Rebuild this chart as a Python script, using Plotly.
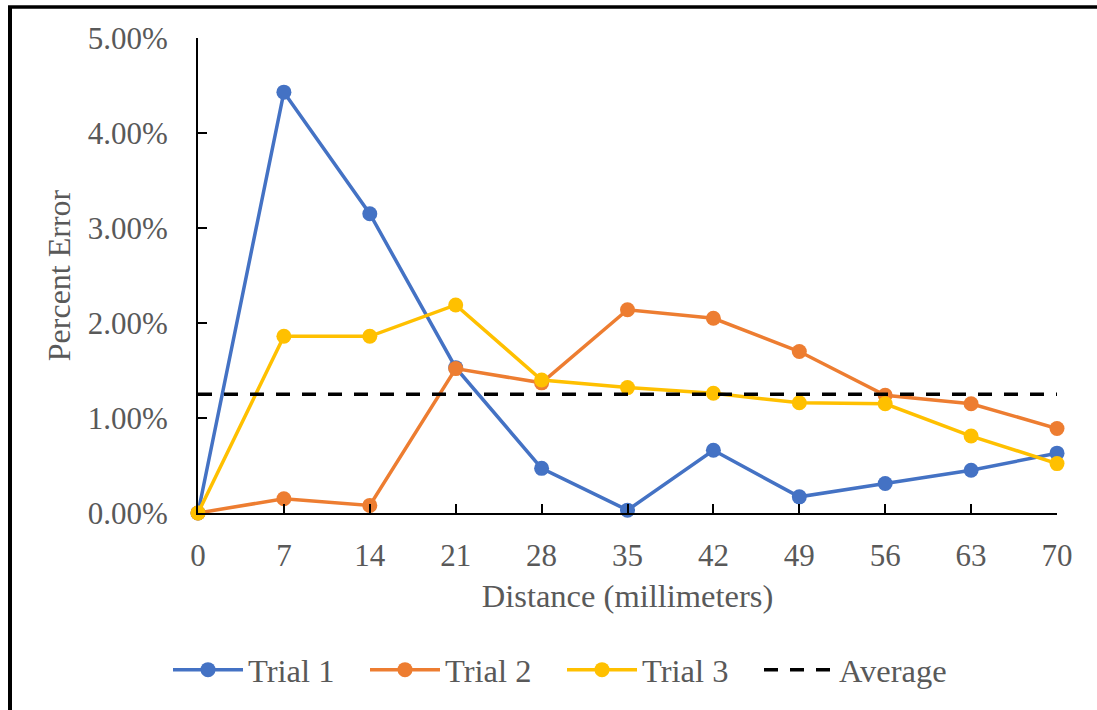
import plotly.graph_objects as go

# Distance along the sample (mm) and percent error per trial
distance_mm = [0, 7, 14, 21, 28, 35, 42, 49, 56, 63, 70]
trial_1 = [0.0, 4.43, 3.15, 1.53, 0.47, 0.03, 0.66, 0.17, 0.31, 0.45, 0.63]
trial_2 = [0.0, 0.15, 0.08, 1.52, 1.37, 2.14, 2.05, 1.70, 1.24, 1.15, 0.89]
trial_3 = [0.0, 1.86, 1.86, 2.19, 1.40, 1.32, 1.26, 1.16, 1.15, 0.81, 0.52]
average = [1.25, 1.25, 1.25, 1.25, 1.25, 1.25, 1.25, 1.25, 1.25, 1.25, 1.25]
y_ticks = [0, 1, 2, 3, 4, 5]
y_tick_text = ["0.00%", "1.00%", "2.00%", "3.00%", "4.00%", "5.00%"]

FONT = "Liberation Serif, Times New Roman, serif"
GREY = "#595959"

fig = go.Figure()
for name, vals, color in [("Trial 1", trial_1, "#4472C4"),
                          ("Trial 2", trial_2, "#ED7D31"),
                          ("Trial 3", trial_3, "#FFC000")]:
    fig.add_trace(go.Scatter(
        x=distance_mm, y=vals, name=name, mode="lines+markers",
        line=dict(color=color, width=3.5),
        marker=dict(color=color, size=15),
        cliponaxis=False,
    ))
fig.add_trace(go.Scatter(
    x=distance_mm, y=average, name="Average", mode="lines",
    line=dict(color="black", width=3.5, dash="14px,12px"),
    cliponaxis=False,
))

# plot area in pixels: x 198..1057, y 38..513
L, R, T, B = 198, 40, 38, 197
W, H = 1097 - L - R, 710 - T - B

def px_x(p):
    return (p - L) / W

def px_y(p):
    return (710 - B - p) / H

fig.update_layout(
    width=1097, height=710,
    margin=dict(l=L, r=R, t=T, b=B),
    paper_bgcolor="white", plot_bgcolor="white",
    font=dict(family=FONT, size=31, color=GREY),
    showlegend=True,
    legend=dict(
        orientation="h", x=px_x(168), y=px_y(670),
        xanchor="left", yanchor="middle",
        font=dict(family=FONT, size=32.5, color=GREY),
        entrywidth=112, itemwidth=70,
        bgcolor="rgba(0,0,0,0)",
    ),
    xaxis=dict(
        range=[0, 70], tickvals=distance_mm,
        showline=True, linecolor="black", linewidth=2,
        ticks="inside", ticklen=9, tickwidth=2, tickcolor="black",
        ticklabelstandoff=14, showgrid=False, zeroline=False,
        title=dict(text="Distance (millimeters)", standoff=12,
                   font=dict(family=FONT, size=32.5, color=GREY)),
    ),
    yaxis=dict(
        range=[0, 5], tickvals=y_ticks, ticktext=y_tick_text,
        showline=True, linecolor="black", linewidth=2,
        ticks="inside", ticklen=9, tickwidth=2, tickcolor="black",
        ticklabelstandoff=22, showgrid=False, zeroline=False,
        title=dict(text="Percent Error", standoff=8,
                   font=dict(family=FONT, size=32, color=GREY)),
    ),
    shapes=[
        dict(type="line", xref="paper", yref="paper",
             x0=px_x(10), x1=px_x(10), y0=px_y(6), y1=px_y(720),
             line=dict(color="black", width=4)),
        dict(type="line", xref="paper", yref="paper",
             x0=px_x(8), x1=px_x(1110), y0=px_y(7), y1=px_y(7),
             line=dict(color="black", width=3.5)),
    ],
)

fig.write_html("out.html")
